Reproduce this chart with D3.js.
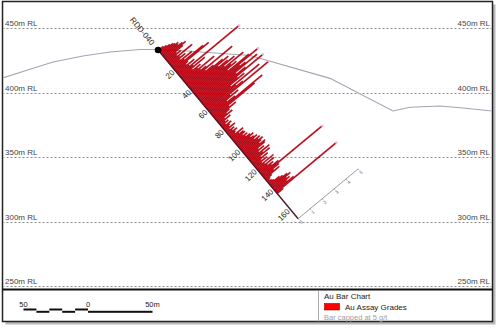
<!DOCTYPE html>
<html><head><meta charset="utf-8">
<script src="https://cdn.jsdelivr.net/npm/d3@7"></script>
<style>body{margin:0;background:#fff}svg{display:block;font-family:"Liberation Sans",Arial,sans-serif}</style>
</head><body><svg id="c" width="500" height="328"></svg>
<script>
// ---------- data ----------
const rlLevels = [450, 400, 350, 300, 250];
const rlLabels = ["450m RL", "400m RL", "350m RL", "300m RL", "250m RL"];
const topoEasting = [-66, -39.5, -27.1, -3.9, 17.1, 40.3, 54.3, 76.7, 125.6, 187.6, 236.4, 249.6, 272.9, 290.7, 313.2];
const topoRL      = [411.5, 420.0, 423.9, 428.5, 431.6, 433.6, 433.6, 432.4, 428.9, 411.2, 385.9, 388.8, 389.8, 388.2, 385.9];
const holeName = "RDD-040";
const holeCollar = [54.3, 433.2];   // easting, RL
const holeDip = 50.3;               // degrees
const holeDepth = 170;
const depthTicks = [20, 40, 60, 80, 100, 120, 140, 160];
const gradeTicks = [0, 1, 2, 3, 4, 5];
const gradeCap = 5;
const sampleFrom = [0,1,2,3,4,5,6,7,8,9,10,11,12,13,14,15,16,17,18,19,20,21,22,23,24,25,26,27,28,29,
 30,31,32,33,34,35,36,37,38,39,40,41,42,43,44,45,46,47,48,49,50,51,52,53,54,55,56,57,58,59,
 60,61,62,63,64,65,66,67,68,69,70,71,72,73,74,75,76,77,78,79,80,81,82,83,84,85,86,87,88,89,
 90,91,92,93,94,95,96,97,98,99,100,101,102,103,104,105,106,107,108,109,110,111,112,113,114,115,116,117,118,119,
 120,121,122,123,124,125,126,127,128,129,130,131,132,133,134,135,136,137,138,139,140,141,142,143,144];
const auGrade = [0.4,0.6,0.8,1.0,1.1,1.3,1.2,1.5,1.7,1.4,0.8,1.1,0.7,1.9,0.8,1.2,0.7,1.6,0.9,2.4,
 2.8,1.0,0.8,1.4,0.9,6.5,1.1,2.0,0.9,1.5,
 1.2,2.5,1.3,1.7,3.8,1.5,2.1,2.8,3.2,2.3,3.0,3.5,2.6,4.1,3.0,3.4,2.6,4.3,7.2,3.4,
 3.8,4.7,2.9,3.6,5.8,2.8,3.3,2.1,4.4,2.4,
 2.9,8.0,1.7,2.3,1.3,1.9,4.1,3.4,1.2,1.7,1.1,0.8,1.2,0.5,0.9,0.4,0.6,0.3,0.7,0.5,
 0.4,0.8,0.3,0.6,0.4,0.7,0.5,0.4,1.0,0.6,
 0.9,0.95,0.7,1.0,0.8,1.1,1.3,1.0,1.2,1.4,1.1,1.5,1.3,1.6,1.4,1.2,1.6,1.5,0.9,1.3,
 0.8,1.6,1.0,1.5,0.7,1.2,0.6,1.0,0.5,1.4,
 0.6,1.3,0.7,1.1,0.9,1.4,6.0,1.3,0.8,1.2,0.5,0.3,0.2,0.3,0.4,0.8,1.0,1.3,1.5,1.1,
 1.3,1.0,1.5,5.6,0.5];
const sampleLength = 1;

// ---------- setup ----------
const svg = d3.select("#c");
const x = d3.scaleLinear().domain([0, 100]).range([88, 217]);
const y = d3.scaleLinear().domain([450, 250]).range([28.3, 286.3]);
const g = d3.scaleLinear().domain([0, gradeCap]).range([0, 78]).clamp(true);

const L = 2.5, R = 492.5, T = 1.5, B = 321.5, DIV = 289.5;

// shadow + frame
svg.append("rect").attr("x", L + 3).attr("y", T + 3).attr("width", R - L).attr("height", B - T)
  .attr("fill", "#b8b8b8");
svg.append("rect").attr("x", L).attr("y", T).attr("width", R - L).attr("height", B - T)
  .attr("fill", "#fff").attr("stroke", "#222").attr("stroke-width", 1.5);

svg.append("defs").append("clipPath").attr("id", "plot")
  .append("rect").attr("x", L + 1).attr("y", T + 1).attr("width", R - L - 2).attr("height", DIV - T - 2);
const plot = svg.append("g").attr("clip-path", "url(#plot)");

// RL grid
rlLevels.forEach((rl, i) => {
  const yy = Math.round(y(rl)) + 0.5;
  plot.append("line").attr("x1", L).attr("x2", R).attr("y1", yy).attr("y2", yy)
    .attr("stroke", "#8a8a8a").attr("stroke-width", 1).attr("stroke-dasharray", "2,2");
  plot.append("text").attr("x", 5).attr("y", yy - 3).attr("font-size", 8).attr("fill", "#444").text(rlLabels[i]);
  plot.append("text").attr("x", 490).attr("y", yy - 3).attr("font-size", 8).attr("fill", "#444")
    .attr("text-anchor", "end").text(rlLabels[i]);
});

// topography
plot.append("path")
  .datum(topoEasting.map((e, i) => [x(e), y(topoRL[i])]))
  .attr("d", d3.line()).attr("fill", "none").attr("stroke", "#a4a4b4").attr("stroke-width", 1.1);

// hole geometry
const rad = holeDip * Math.PI / 180;
function holePt(d) {
  return [x(holeCollar[0] + d * Math.cos(rad)), y(holeCollar[1] - d * Math.sin(rad))];
}
const p0 = holePt(0), p1 = holePt(holeDepth);
const hl = Math.hypot(p1[0] - p0[0], p1[1] - p0[1]);
const u = [(p1[0] - p0[0]) / hl, (p1[1] - p0[1]) / hl];   // along hole
const v = [u[1], -u[0]];                                     // bar direction (up-right)
const w = [-v[0], -v[1]];

// bars
const bars = plot.append("g");
sampleFrom.forEach((d, i) => {
  const a = holePt(d), b = holePt(d + sampleLength);
  const len = g(auGrade[i]);
  const pts = [a, b, [b[0] + v[0] * len, b[1] + v[1] * len], [a[0] + v[0] * len, a[1] + v[1] * len]];
  bars.append("polygon").attr("points", pts.map(p => p.join(",")).join(" "))
    .attr("fill", "#c8000f").attr("stroke", "#9a0010").attr("stroke-width", 0.35);
  if (auGrade[i] > gradeCap) {
    const c = [(a[0] + b[0]) / 2 + v[0] * len, (a[1] + b[1]) / 2 + v[1] * len];
    bars.append("circle").attr("cx", c[0]).attr("cy", c[1]).attr("r", 1.3).attr("fill", "#f0b4ec");
  }
});

// hole trace
plot.append("line").attr("x1", p0[0]).attr("y1", p0[1]).attr("x2", p1[0]).attr("y2", p1[1])
  .attr("stroke", "#4a1a28").attr("stroke-width", 1.4);
plot.append("circle").attr("cx", p0[0]).attr("cy", p0[1]).attr("r", 3.3).attr("fill", "#000");

const angV = Math.atan2(v[1], v[0]) * 180 / Math.PI;
const angU = Math.atan2(u[1], u[0]) * 180 / Math.PI;

// depth labels
depthTicks.forEach(d => {
  const p = holePt(d);
  plot.append("text").attr("transform", `translate(${p[0]},${p[1]}) rotate(${angV - 5})`)
    .attr("x", -2).attr("dy", "0.35em").attr("text-anchor", "end").attr("font-size", 8).attr("fill", "#222")
    .text(d);
});

// hole name
plot.append("text").attr("transform", `translate(${p0[0]},${p0[1]}) rotate(${angU})`)
  .attr("x", -8).attr("dy", "0.35em").attr("text-anchor", "end").attr("font-size", 8).attr("fill", "#222")
  .text(holeName);

// grade axis
const ga = plot.append("g").attr("transform", `translate(${p1[0]},${p1[1]}) rotate(${angV})`);
ga.append("line").attr("x1", 0).attr("x2", g(gradeCap)).attr("y1", 0).attr("y2", 0)
  .attr("stroke", "#8c8c8c").attr("stroke-width", 0.8);
gradeTicks.forEach(t => {
  ga.append("line").attr("x1", g(t)).attr("x2", g(t)).attr("y1", 0).attr("y2", 2)
    .attr("stroke", "#8c8c8c").attr("stroke-width", 0.6);
  ga.append("text").attr("x", g(t)).attr("y", 6).attr("text-anchor", "middle")
    .attr("font-size", 4.5).attr("fill", "#555").text(t);
});

// divider
svg.append("line").attr("x1", L).attr("x2", R).attr("y1", DIV).attr("y2", DIV)
  .attr("stroke", "#111").attr("stroke-width", 2);
svg.append("line").attr("x1", 318.5).attr("x2", 318.5).attr("y1", DIV + 1).attr("y2", B)
  .attr("stroke", "#aaa").attr("stroke-width", 1);

// scale bar
const sb = [-50, -40, -30, -20, -10, 0];
for (let i = 0; i < 5; i++) {
  svg.append("rect").attr("x", x(sb[i])).attr("width", x(sb[i + 1]) - x(sb[i]))
    .attr("y", i % 2 === 0 ? 308.5 : 310.8).attr("height", 2).attr("fill", "#111");
}
svg.append("rect").attr("x", x(0)).attr("width", x(50) - x(0)).attr("y", 310.8).attr("height", 2).attr("fill", "#111");
[[-50, "50"], [0, "0"], [50, "50m"]].forEach(([m, t]) => {
  svg.append("text").attr("x", x(m)).attr("y", 306.5).attr("text-anchor", "middle")
    .attr("font-size", 7.5).attr("fill", "#222").text(t);
});

// legend
svg.append("text").attr("x", 324).attr("y", 299).attr("font-size", 8).attr("fill", "#222").text("Au Bar Chart");
svg.append("rect").attr("x", 324.5).attr("y", 303.5).attr("width", 15).attr("height", 6.5)
  .attr("fill", "#ff0000").attr("stroke", "#900").attr("stroke-width", 0.6);
svg.append("text").attr("x", 345).attr("y", 309.5).attr("font-size", 8).attr("fill", "#222").text("Au Assay Grades");
svg.append("text").attr("x", 324).attr("y", 319.5).attr("font-size", 7.5).attr("fill", "#a0a0a0").text("Bar capped at 5 g/t");
</script></body></html>
